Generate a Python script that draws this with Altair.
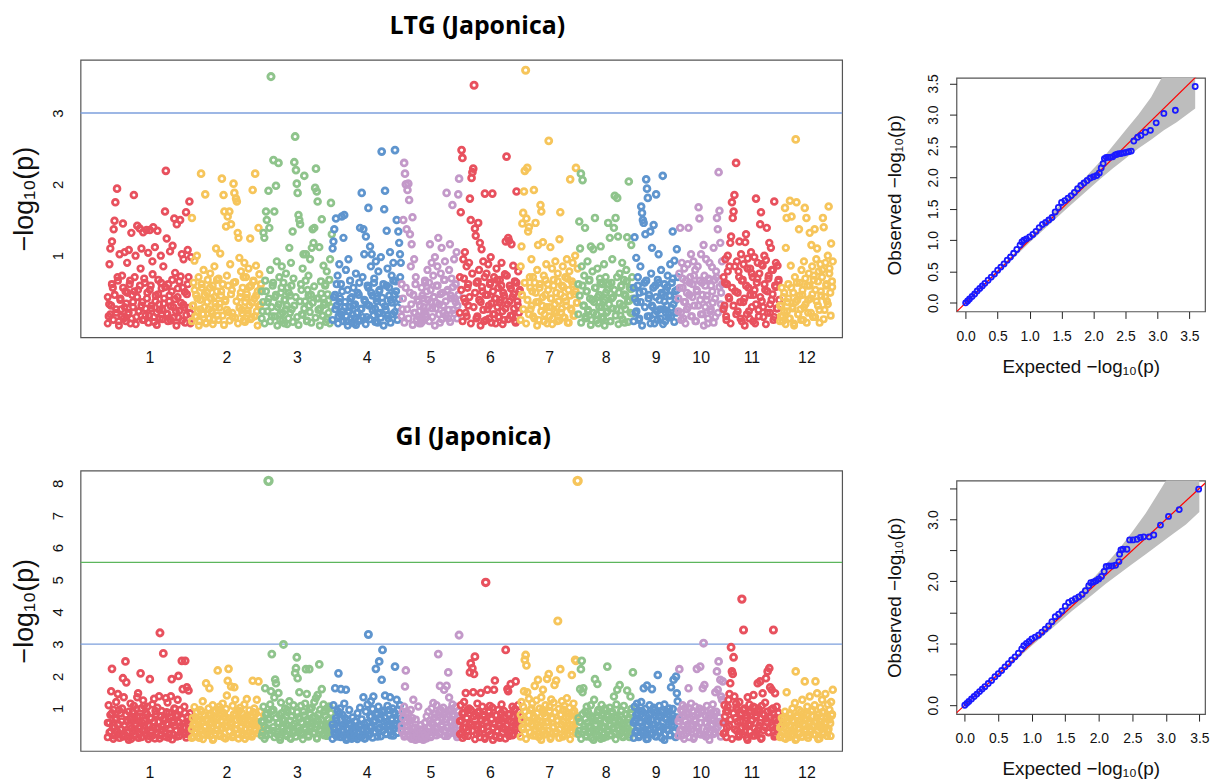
import altair as alt
import pandas as pd

# ---------------- chromosome layout (rice, IRGSP-1.0 lengths in Mb) ----------------
chrom_names = ["1", "2", "3", "4", "5", "6", "7", "8", "9", "10", "11", "12"]
chrom_length_mb = [43.27, 35.94, 36.41, 35.50, 29.96, 31.25, 29.70, 28.44, 23.01, 23.21, 29.02, 27.53]
chrom_colors = ["#E8515E", "#F6C55B", "#8FC48C", "#5F95CE", "#C399C9",
                "#E8515E", "#F6C55B", "#8FC48C", "#5F95CE", "#C399C9",
                "#E8515E", "#F6C55B"]

# ---------------- LTG (Japonica): -log10(p) per marker, in map order ----------------
ltg_chr1 = [0.42, 0.15, 0.88, 1.10, 0.30, 1.20, 0.55, 1.37, 1.49, 1.75,
            0.20, 1.94, 0.65, 0.08, 1.02, 0.40, 0.25, 0.72, 1.45, 0.12,
            1.05, 0.50, 0.33, 0.90, 0.18, 1.08, 0.60, 0.05, 1.32, 0.45,
            0.28, 1.85, 0.70, 1.00, 0.14, 1.42, 0.52, 0.22, 1.38, 0.82,
            1.10, 0.35, 1.33, 0.10, 0.62, 0.26, 1.36, 0.48, 1.04, 0.16,
            1.36, 0.58, 0.30, 0.92, 1.40, 0.07, 1.12, 0.44, 0.20, 1.35,
            0.66, 0.32, 0.12, 1.00, 0.54, 0.24, 0.85, 0.40, 1.62, 2.19,
            1.24, 0.18, 0.60, 0.36, 1.06, 0.09, 0.50, 1.14, 0.28, 1.52,
            0.76, 0.22, 1.44, 0.42, 0.13, 0.64, 1.50, 0.34, 1.02, 0.55,
            0.95, 0.27, 0.06, 1.61, 0.46, 1.08, 0.70, 1.76, 0.19, 0.98]
ltg_chr2 = [1.53, 0.30, 0.62, 0.93, 0.15, 0.45, 1.00, 0.22, 0.70, 0.08,
            0.38, 2.15, 0.55, 0.18, 0.80, 0.28, 1.86, 0.05, 0.48, 0.66,
            0.25, 0.12, 0.75, 0.40, 0.20, 0.58, 0.10, 0.85, 0.33, 1.10,
            0.50, 0.16, 0.68, 0.27, 1.03, 0.44, 2.08, 0.60, 1.85, 1.62,
            0.36, 1.41, 0.72, 1.55, 0.21, 1.62, 0.88, 1.44, 0.52, 0.14,
            2.01, 1.88, 0.63, 1.80, 1.76, 1.32, 1.25, 0.97, 0.42, 0.78,
            0.24, 0.55, 0.09, 0.90, 0.35, 0.70, 0.46, 0.19, 0.82, 0.30,
            1.24, 0.58, 0.13, 1.92, 0.65, 0.40, 2.15, 0.86, 0.22, 0.50,
            1.39, 0.74, 0.31, 0.60]
ltg_chr3 = [0.50, 0.22, 1.32, 1.25, 0.65, 1.62, 1.50, 0.35, 1.91, 1.39,
            0.80, 3.51, 0.15, 0.58, 2.34, 1.62, 0.42, 1.98, 0.92, 0.28,
            2.30, 0.70, 0.10, 0.48, 0.85, 0.20, 0.62, 0.05, 0.38, 0.75,
            0.30, 0.55, 0.12, 1.11, 0.44, 0.90, 0.25, 1.34, 0.68, 2.31,
            2.67, 2.20, 2.01, 1.88, 1.57, 1.50, 1.44, 0.60, 0.18, 0.82,
            1.02, 2.12, 0.36, 1.02, 0.08, 0.52, 0.72, 0.30, 0.95, 0.45,
            1.11, 1.37, 1.18, 1.39, 1.95, 2.22, 1.90, 1.76, 0.40, 1.12,
            0.26, 0.64, 1.51, 0.16, 0.86, 0.34, 0.58, 0.07, 0.78, 0.46,
            0.20, 0.66, 0.95, 1.74, 1.30]
ltg_chr4 = [1.10, 1.20, 1.37, 0.45, 1.52, 0.30, 0.72, 0.15, 0.88, 0.40,
            0.60, 1.55, 0.22, 1.25, 1.57, 0.35, 0.80, 0.08, 0.52, 0.95,
            0.28, 0.65, 0.12, 0.42, 0.18, 0.55, 0.05, 0.32, 0.75, 0.20,
            0.48, 0.10, 0.62, 1.39, 0.25, 1.88, 0.70, 1.37, 1.02, 0.36,
            1.27, 0.14, 0.58, 1.67, 0.30, 1.13, 0.85, 1.02, 0.44, 0.16,
            0.68, 0.26, 0.92, 0.40, 0.06, 0.78, 0.50, 0.20, 0.98, 2.46,
            0.34, 0.60, 1.65, 1.91, 0.24, 1.35, 0.82, 0.12, 0.55, 1.05,
            0.38, 0.72, 0.18, 0.90, 0.46, 2.48, 0.64, 1.50, 0.28, 1.34,
            1.18, 1.02, 0.90]
ltg_chr5 = [0.60, 0.25, 1.50, 2.30, 2.15, 2.00, 1.37, 1.92, 2.01, 1.78,
            1.30, 0.85, 1.16, 1.54, 0.45, 0.95, 0.20, 0.70, 0.10, 0.38,
            0.15, 0.05, 0.30, 0.12, 0.55, 0.08, 0.40, 0.22, 0.65, 0.18,
            0.50, 0.80, 0.28, 0.62, 1.16, 0.35, 0.90, 0.14, 0.72, 0.42,
            0.98, 0.26, 0.58, 0.85, 1.25, 0.32, 0.06, 0.75, 1.11, 0.48,
            0.20, 0.66, 0.92, 0.36, 1.88, 0.52, 0.12, 0.80, 1.16, 0.44,
            0.68, 1.71, 0.24, 0.95, 0.40, 0.60, 1.05, 0.30, 1.86, 2.08]
ltg_chr6 = [0.70, 1.61, 2.48, 2.37, 0.95, 0.40, 1.05, 0.20, 0.85, 0.55,
            0.30, 0.90, 1.80, 1.50, 2.09, 2.17, 2.22, 3.39, 1.38, 1.28,
            0.62, 0.15, 1.46, 0.80, 1.18, 0.35, 1.09, 0.50, 0.92, 0.08,
            1.87, 0.45, 0.75, 0.25, 0.88, 0.12, 0.60, 0.98, 0.33, 1.87,
            0.18, 0.70, 0.40, 0.05, 0.82, 0.28, 0.55, 0.14, 0.66, 0.38,
            0.90, 0.22, 0.48, 0.10, 0.74, 1.20, 2.39, 0.32, 1.25, 1.21,
            0.58, 0.16, 1.16, 0.42, 0.86, 0.26, 0.64, 0.06, 1.90, 0.36,
            0.78, 0.20, 0.52]
ltg_chr7 = [0.85, 1.13, 1.45, 1.60, 1.90, 2.19, 3.60, 1.52, 2.23, 1.34,
            1.40, 0.70, 0.25, 0.95, 0.50, 0.15, 1.92, 0.62, 1.46, 0.35,
            0.80, 1.15, 0.10, 0.55, 1.71, 1.62, 0.30, 1.19, 0.72, 0.18,
            0.45, 0.88, 0.05, 0.60, 2.61, 0.28, 1.12, 0.40, 0.82, 0.12,
            0.66, 0.22, 0.92, 0.48, 0.08, 0.75, 0.36, 1.23, 1.61, 0.20,
            0.58, 0.85, 0.14, 0.42, 0.70, 0.30, 0.95, 0.06, 0.52, 0.78,
            2.07, 0.26, 0.64, 0.90, 0.16, 0.46, 1.00, 2.23, 0.34, 0.82]
ltg_chr8 = [0.60, 1.48, 1.10, 2.15, 0.85, 2.06, 0.30, 0.72, 1.39, 0.15,
            0.50, 0.92, 0.22, 0.65, 0.40, 1.13, 0.10, 0.78, 1.09, 0.35,
            1.53, 0.55, 0.18, 0.82, 0.05, 0.45, 0.68, 1.13, 0.28, 0.60,
            0.12, 0.88, 0.38, 0.70, 0.20, 0.52, 1.46, 0.32, 1.25, 0.08,
            0.62, 0.95, 0.42, 1.39, 1.84, 1.53, 0.25, 1.81, 1.27, 0.48,
            0.75, 0.16, 0.58, 0.90, 0.30, 0.66, 0.06, 0.44, 0.80, 1.26,
            0.36, 2.04, 0.55, 0.20, 1.15, 0.70, 0.40]
ltg_chr9 = [0.55, 1.26, 0.20, 0.97, 0.35, 0.70, 0.10, 0.48, 0.85, 1.69,
            1.60, 1.50, 1.46, 0.62, 1.30, 2.07, 1.94, 1.81, 0.40, 0.15,
            1.34, 0.75, 1.11, 0.28, 1.43, 0.05, 0.58, 1.86, 0.22, 0.66,
            1.02, 0.38, 0.12, 0.80, 0.45, 2.12, 0.25, 0.60, 0.08, 0.52,
            0.30, 0.72, 0.18, 0.44, 0.88, 0.14, 0.62, 1.34, 0.32, 0.93,
            0.50, 0.20, 1.09, 0.70]
ltg_chr10 = [0.40, 0.75, 1.39, 0.20, 0.90, 0.55, 0.12, 0.82, 0.35, 0.65,
             0.25, 0.88, 1.39, 0.45, 0.70, 1.02, 0.15, 0.60, 0.92, 0.30,
             0.80, 0.08, 0.50, 0.85, 1.68, 1.52, 0.38, 1.02, 0.62, 0.18,
             1.15, 0.72, 0.28, 0.95, 0.44, 0.05, 0.68, 0.90, 0.22, 0.58,
             0.84, 0.34, 1.11, 0.66, 0.14, 0.78, 1.53, 1.37, 2.17, 1.63,
             1.18, 0.48, 0.92, 0.26]
ltg_chr11 = [0.70, 0.30, 0.95, 0.15, 0.60, 1.00, 0.42, 0.85, 1.18, 1.27,
             1.75, 1.53, 1.62, 1.85, 0.50, 2.30, 0.92, 0.22, 0.78, 1.20,
             0.35, 1.02, 0.08, 0.66, 0.88, 0.40, 1.19, 1.30, 0.18, 0.96,
             0.55, 0.12, 0.82, 1.05, 0.28, 0.70, 0.45, 0.98, 0.05, 1.80,
             0.62, 0.90, 0.24, 0.75, 1.44, 1.61, 0.36, 0.86, 0.14, 1.00,
             0.52, 0.94, 1.39, 0.20, 0.68, 1.18, 0.32, 1.11, 0.80, 0.46,
             0.10, 1.76, 0.58, 0.90, 0.26, 0.86, 0.64, 0.38]
ltg_chr12 = [0.30, 0.15, 0.55, 0.08, 0.42, 0.22, 1.67, 1.11, 1.53, 0.35,
             0.60, 0.12, 1.77, 0.86, 1.55, 0.28, 0.48, 0.05, 0.70, 2.63,
             1.75, 0.38, 0.18, 1.37, 0.62, 0.25, 0.80, 0.45, 0.10, 0.92,
             1.67, 0.32, 1.53, 0.58, 0.20, 0.75, 1.32, 0.40, 1.15, 0.85,
             0.14, 0.66, 1.37, 0.52, 0.95, 1.10, 0.30, 0.78, 0.06, 0.88,
             0.44, 0.70, 1.53, 1.40, 0.24, 0.90, 0.58, 0.36, 1.00, 1.69,
             0.82, 0.48, 1.17, 0.64, 0.92]

# dense low-signal markers of each LTG chromosome
ltg_base1 = [0.05, 0.32, 0.18, 0.60, 0.10, 0.45, 0.25, 0.70, 0.02, 0.38,
             0.15, 0.55, 0.28, 0.08, 0.48, 0.20, 0.65, 0.12, 0.35, 0.50,
             0.04, 0.42, 0.22, 0.58, 0.30, 0.10, 0.68, 0.16, 0.40, 0.06,
             0.52, 0.26, 0.74, 0.14, 0.36, 0.03, 0.46, 0.24, 0.62, 0.11,
             0.33, 0.56, 0.19, 0.08, 0.44, 0.29, 0.66, 0.13, 0.39, 0.02,
             0.54, 0.23, 0.71, 0.09, 0.31, 0.49, 0.17, 0.60, 0.27, 0.05]
ltg_base2 = [0.08, 0.30, 0.52, 0.14, 0.40, 0.02, 0.25, 0.60, 0.18, 0.45,
             0.06, 0.35, 0.12, 0.55, 0.22, 0.04, 0.42, 0.28, 0.66, 0.10,
             0.33, 0.50, 0.16, 0.03, 0.38, 0.24, 0.58, 0.09, 0.46, 0.20,
             0.62, 0.13, 0.36, 0.05, 0.27, 0.48, 0.19, 0.70, 0.07, 0.41,
             0.23, 0.56, 0.11, 0.34, 0.64, 0.15, 0.44, 0.02, 0.29, 0.53]
ltg_base3 = [0.12, 0.35, 0.05, 0.50, 0.22, 0.40, 0.08, 0.28, 0.62, 0.15,
             0.45, 0.02, 0.32, 0.18, 0.55, 0.10, 0.38, 0.25, 0.04, 0.48,
             0.20, 0.58, 0.07, 0.30, 0.42, 0.14, 0.03, 0.36, 0.52, 0.17,
             0.26, 0.65, 0.09, 0.44, 0.21, 0.06, 0.34, 0.57, 0.13, 0.40,
             0.24, 0.02, 0.47, 0.16, 0.31, 0.60, 0.11, 0.37, 0.05, 0.28]
ltg_base4 = [0.10, 0.42, 0.25, 0.60, 0.05, 0.35, 0.18, 0.50, 0.08, 0.28,
             0.15, 0.02, 0.22, 0.40, 0.06, 0.30, 0.12, 0.03, 0.20, 0.45,
             0.09, 0.26, 0.14, 0.38, 0.04, 0.32, 0.55, 0.11, 0.48, 0.24,
             0.62, 0.07, 0.36, 0.19, 0.52, 0.13, 0.41, 0.02, 0.29, 0.58,
             0.16, 0.44, 0.06, 0.34, 0.65, 0.21, 0.50, 0.10, 0.39, 0.70]
ltg_base5 = [0.15, 0.40, 0.06, 0.55, 0.25, 0.12, 0.48, 0.32, 0.03, 0.20,
             0.60, 0.10, 0.36, 0.22, 0.05, 0.44, 0.28, 0.62, 0.14, 0.38,
             0.08, 0.52, 0.26, 0.42, 0.02, 0.34, 0.58, 0.18, 0.46, 0.11,
             0.30, 0.66, 0.16, 0.50, 0.24, 0.07, 0.40, 0.56, 0.19, 0.35,
             0.12, 0.45]
ltg_base6 = [0.20, 0.52, 0.08, 0.68, 0.35, 0.15, 0.60, 0.42, 0.05, 0.75,
             0.28, 0.48, 0.12, 0.64, 0.38, 0.02, 0.56, 0.24, 0.70, 0.10,
             0.45, 0.30, 0.62, 0.06, 0.50, 0.18, 0.40, 0.66, 0.14, 0.34,
             0.58, 0.04, 0.44, 0.26, 0.72, 0.11, 0.36, 0.54, 0.16, 0.46,
             0.08, 0.62, 0.30, 0.50]
ltg_base7 = [0.10, 0.45, 0.25, 0.62, 0.05, 0.38, 0.18, 0.55, 0.30, 0.70,
             0.12, 0.48, 0.02, 0.35, 0.60, 0.22, 0.42, 0.08, 0.66, 0.28,
             0.52, 0.15, 0.40, 0.04, 0.58, 0.32, 0.20, 0.64, 0.09, 0.46,
             0.26, 0.56, 0.13, 0.36, 0.68, 0.06, 0.44, 0.24, 0.60, 0.16,
             0.50, 0.34]
ltg_base8 = [0.18, 0.44, 0.06, 0.58, 0.30, 0.12, 0.50, 0.24, 0.66, 0.03,
             0.38, 0.20, 0.55, 0.09, 0.42, 0.28, 0.62, 0.14, 0.35, 0.02,
             0.48, 0.22, 0.60, 0.08, 0.40, 0.26, 0.52, 0.16, 0.70, 0.04,
             0.33, 0.57, 0.11, 0.46, 0.25, 0.64, 0.07, 0.37, 0.53, 0.19]
ltg_base9 = [0.08, 0.40, 0.22, 0.58, 0.12, 0.35, 0.02, 0.50, 0.28, 0.65,
             0.15, 0.45, 0.05, 0.30, 0.55, 0.18, 0.42, 0.10, 0.62, 0.25,
             0.48, 0.04, 0.36, 0.20, 0.56, 0.13, 0.44, 0.27, 0.68, 0.07,
             0.38, 0.52]
ltg_base10 = [0.22, 0.55, 0.10, 0.68, 0.35, 0.05, 0.48, 0.28, 0.62, 0.15,
              0.42, 0.72, 0.08, 0.52, 0.30, 0.65, 0.18, 0.45, 0.02, 0.58,
              0.38, 0.12, 0.66, 0.25, 0.50, 0.06, 0.40, 0.70, 0.20, 0.56,
              0.32, 0.60]
ltg_base11 = [0.25, 0.62, 0.10, 0.78, 0.40, 0.05, 0.55, 0.30, 0.85, 0.18,
              0.48, 0.70, 0.12, 0.65, 0.35, 0.02, 0.58, 0.82, 0.22, 0.45,
              0.75, 0.08, 0.52, 0.32, 0.68, 0.15, 0.42, 0.88, 0.28, 0.60,
              0.04, 0.50, 0.72, 0.20, 0.38, 0.80, 0.14, 0.56, 0.26, 0.66]
ltg_base12 = [0.08, 0.30, 0.15, 0.48, 0.04, 0.22, 0.40, 0.12, 0.55, 0.26,
              0.02, 0.35, 0.62, 0.18, 0.44, 0.10, 0.52, 0.28, 0.68, 0.06,
              0.38, 0.58, 0.20, 0.46, 0.72, 0.14, 0.36, 0.64, 0.24, 0.50,
              0.80, 0.11, 0.42, 0.60, 0.32, 0.75, 0.16, 0.56]

# ---------------- GI (Japonica): -log10(p) per marker, in map order ----------------
gi_chr1 = [0.55, 1.10, 0.25, 0.80, 1.53, 2.23, 0.40, 0.95, 0.15, 0.65,
           1.20, 0.30, 1.45, 0.50, 0.08, 0.85, 0.35, 1.00, 1.94, 1.35,
           0.20, 2.46, 1.81, 0.60, 0.12, 0.90, 0.45, 1.15, 0.05, 0.72,
           0.28, 1.08, 0.62, 0.18, 0.98, 1.35, 1.47, 0.38, 0.75, 2.09,
           0.10, 0.55, 1.25, 1.08, 0.32, 0.88, 0.22, 1.05, 0.48, 0.14,
           1.91, 0.68, 0.26, 1.12, 0.42, 1.30, 0.06, 0.82, 0.36, 1.02,
           0.58, 1.38, 3.35, 0.16, 0.92, 0.44, 2.71, 0.70, 0.24, 1.32,
           0.52, 1.18, 0.09, 0.86, 0.34, 1.38, 1.91, 0.62, 0.18, 1.00,
           0.46, 0.78, 0.12, 1.27, 2.01, 0.56, 0.95, 0.30, 2.48, 1.60,
           0.40, 1.05, 2.48, 0.20, 1.66, 0.74, 1.56, 0.50, 0.85, 0.27]
gi_chr2 = [0.35, 0.70, 0.12, 1.04, 0.50, 0.22, 0.88, 0.40, 0.65, 0.08,
           0.95, 0.30, 0.55, 1.22, 0.18, 0.78, 0.45, 1.78, 0.26, 0.62,
           1.00, 1.63, 0.15, 0.82, 0.38, 1.10, 0.05, 0.60, 0.90, 0.32,
           0.70, 2.18, 0.48, 1.05, 0.20, 0.85, 0.58, 1.15, 0.10, 0.75,
           0.42, 0.98, 1.40, 1.86, 2.23, 0.28, 0.66, 1.68, 0.52, 1.08,
           0.16, 1.66, 1.27, 0.80, 0.36, 0.92, 0.06, 0.68, 1.02, 0.44,
           0.86, 0.24, 0.60, 1.12, 0.34, 0.72, 1.29, 0.14, 0.50, 0.94,
           0.40, 0.76, 0.20, 1.86, 0.62, 1.00, 0.30, 0.84, 1.27, 0.54,
           1.84, 0.46, 0.90, 0.25]
gi_chr3 = [0.60, 0.25, 1.05, 0.45, 1.63, 0.15, 0.85, 0.38, 8.08, 0.70,
           1.12, 1.53, 2.69, 0.30, 0.95, 1.34, 1.90, 1.78, 0.20, 0.55,
           1.48, 0.80, 0.10, 1.18, 0.42, 0.66, 2.99, 0.28, 1.00, 0.50,
           0.14, 0.88, 0.35, 1.22, 0.62, 0.05, 0.92, 0.46, 1.10, 0.24,
           2.10, 2.25, 2.59, 1.94, 0.72, 1.50, 0.32, 1.08, 0.56, 0.18,
           0.90, 0.40, 1.15, 2.22, 1.45, 0.66, 0.12, 2.22, 0.82, 0.36,
           1.02, 0.52, 0.22, 1.20, 0.74, 1.32, 0.08, 1.42, 0.60, 2.37,
           0.96, 0.30, 1.60, 0.48, 1.12, 0.16, 0.78, 0.40, 1.00, 0.26,
           0.65, 1.06, 0.34, 0.85, 0.50]
gi_chr4 = [0.50, 1.10, 0.25, 1.63, 0.70, 0.12, 0.92, 2.09, 0.40, 1.00,
           1.60, 0.30, 0.80, 0.15, 1.15, 0.55, 1.58, 0.08, 0.65, 0.35,
           0.95, 0.20, 0.48, 0.05, 0.72, 0.28, 0.15, 0.60, 0.10, 0.38,
           0.85, 0.22, 0.45, 1.02, 0.14, 0.66, 0.30, 1.35, 0.52, 0.06,
           0.90, 0.34, 1.12, 3.30, 0.18, 0.75, 1.22, 0.42, 0.98, 1.37,
           0.26, 0.62, 2.23, 0.86, 0.12, 1.05, 2.46, 0.40, 0.70, 1.89,
           2.82, 0.32, 0.94, 1.40, 0.20, 0.58, 1.08, 0.46, 0.80, 1.35,
           0.16, 0.64, 1.00, 0.36, 0.88, 2.30, 0.52, 1.27, 0.24, 0.96,
           0.44, 1.10, 0.68]
gi_chr5 = [0.45, 0.90, 0.20, 1.05, 1.68, 2.18, 0.60, 0.30, 0.85, 0.12,
           0.50, 0.95, 0.25, 0.70, 1.27, 0.08, 0.40, 0.65, 0.15, 0.35,
           1.06, 0.05, 0.22, 0.48, 0.10, 0.30, 0.02, 0.18, 0.55, 0.12,
           0.75, 0.28, 0.90, 0.40, 0.62, 0.16, 1.00, 0.50, 1.17, 0.24,
           0.82, 0.36, 1.10, 0.58, 2.69, 0.20, 1.70, 0.95, 0.44, 0.70,
           1.02, 1.58, 0.32, 0.86, 1.70, 0.14, 2.12, 1.34, 0.60, 0.98,
           0.38, 1.12, 0.26, 0.80, 0.52, 1.05, 0.18, 0.72, 0.92, 3.28]
gi_chr6 = [0.60, 1.10, 0.25, 0.85, 0.40, 1.20, 0.15, 1.48, 0.70, 0.95,
           0.30, 1.00, 2.12, 2.40, 0.50, 2.25, 1.50, 2.07, 2.61, 0.80,
           0.20, 1.15, 0.45, 0.90, 0.10, 1.48, 0.62, 1.05, 0.35, 0.75,
           0.05, 4.92, 0.55, 1.58, 0.28, 0.88, 1.08, 0.18, 0.66, 1.02,
           0.40, 1.58, 1.87, 0.12, 0.78, 0.30, 0.95, 0.52, 0.08, 0.70,
           1.12, 0.24, 0.60, 0.92, 0.36, 2.82, 0.46, 1.60, 1.53, 0.14,
           0.82, 1.76, 0.32, 1.05, 0.56, 0.20, 0.98, 1.84, 0.42, 0.72,
           1.10, 0.26, 0.64]
gi_chr7 = [0.80, 1.20, 0.40, 1.05, 1.53, 2.51, 2.66, 2.34, 1.50, 0.60,
           1.30, 0.25, 0.95, 0.50, 1.15, 0.15, 0.75, 1.70, 0.35, 1.25,
           0.65, 1.89, 0.10, 1.00, 0.45, 1.35, 0.28, 1.58, 0.85, 0.18,
           1.10, 0.55, 1.92, 0.30, 2.07, 0.92, 0.05, 1.28, 0.70, 0.40,
           1.18, 1.73, 0.22, 1.87, 0.62, 3.72, 0.98, 0.35, 2.22, 0.80,
           1.22, 0.12, 0.58, 1.08, 0.42, 0.90, 1.32, 0.20, 0.72, 1.02,
           0.48, 0.30, 2.04, 0.86, 1.15, 0.38, 2.51, 2.48, 0.66, 8.08]
gi_chr8 = [0.70, 0.30, 1.60, 2.22, 2.48, 1.50, 1.63, 0.45, 0.90, 0.15,
           1.05, 0.55, 0.25, 0.80, 0.40, 1.10, 0.08, 0.68, 0.35, 1.27,
           1.91, 0.50, 0.18, 1.76, 0.95, 0.28, 0.62, 0.05, 1.11, 0.42,
           0.85, 0.20, 1.00, 0.58, 0.12, 2.30, 0.75, 0.32, 1.02, 0.48,
           0.16, 0.90, 0.60, 1.37, 0.26, 0.78, 1.12, 1.58, 0.38, 0.66,
           1.73, 0.22, 0.94, 0.46, 0.10, 1.08, 0.54, 0.30, 0.82, 1.56,
           0.36, 0.72, 0.18, 1.37, 0.98, 0.44, 2.12]
gi_chr9 = [0.55, 1.05, 0.25, 0.80, 1.15, 0.40, 0.10, 0.92, 0.60, 1.20,
           0.30, 0.75, 1.63, 0.18, 0.98, 0.45, 1.71, 0.05, 0.68, 1.10,
           0.35, 0.85, 1.60, 0.22, 1.02, 0.50, 0.14, 0.88, 0.62, 2.04,
           0.28, 1.08, 0.44, 0.72, 0.08, 0.95, 0.38, 1.12, 0.20, 0.66,
           0.90, 0.32, 0.58, 1.00, 0.16, 1.66, 0.48, 0.78, 1.89, 0.26,
           0.70, 1.99, 1.47, 1.22]
gi_chr10 = [0.60, 2.22, 0.30, 0.95, 0.15, 1.10, 0.45, 0.78, 1.02, 0.22,
            0.85, 0.50, 1.63, 0.10, 0.70, 1.15, 0.35, 0.92, 0.05, 0.62,
            1.05, 0.28, 2.23, 0.80, 0.40, 1.00, 2.30, 0.18, 0.88, 1.63,
            3.03, 1.73, 0.55, 0.12, 1.08, 0.42, 0.75, 0.25, 0.96, 0.48,
            0.68, 1.12, 0.20, 0.86, 1.50, 0.36, 2.15, 1.58, 2.46, 0.58,
            1.89, 1.37, 1.27, 1.84]
gi_chr11 = [0.55, 1.10, 0.25, 0.90, 0.40, 1.05, 1.27, 1.45, 1.78, 2.90,
            2.15, 2.07, 2.59, 1.37, 0.70, 1.15, 0.30, 0.95, 0.12, 1.20,
            0.60, 0.85, 4.40, 0.20, 3.44, 1.00, 0.45, 0.78, 0.08, 1.35,
            0.50, 1.12, 0.28, 0.92, 0.65, 0.15, 1.42, 0.38, 1.02, 0.72,
            0.22, 1.78, 0.88, 0.46, 1.84, 0.05, 1.08, 1.47, 0.32, 0.80,
            1.18, 1.94, 0.58, 2.15, 0.26, 2.25, 1.66, 0.95, 1.58, 0.42,
            3.44, 0.70, 1.47, 0.18, 1.05, 0.35, 0.86, 0.62]
gi_chr12 = [0.40, 0.15, 0.70, 0.25, 0.55, 0.08, 0.90, 0.35, 1.50, 0.20,
            0.62, 0.10, 0.80, 0.45, 0.30, 1.00, 0.18, 0.58, 1.17, 2.15,
            0.05, 0.72, 0.38, 0.95, 0.22, 0.60, 0.12, 1.27, 0.48, 0.85,
            1.84, 0.28, 0.66, 1.05, 0.16, 0.52, 1.37, 0.34, 0.92, 0.44,
            0.75, 0.20, 1.10, 1.84, 0.58, 1.47, 0.30, 0.82, 0.06, 1.02,
            0.50, 1.27, 0.26, 0.88, 0.40, 1.45, 0.68, 0.14, 1.12, 0.36,
            0.96, 0.54, 1.20, 0.78, 1.58]

# dense low-signal markers of each GI chromosome
gi_base1 = [0.10, 0.55, 0.28, 0.85, 0.05, 0.42, 0.70, 0.18, 0.95, 0.35,
            0.60, 0.12, 0.48, 0.80, 0.25, 0.02, 0.66, 0.38, 0.90, 0.15,
            0.52, 0.74, 0.08, 0.44, 1.00, 0.30, 0.62, 0.20, 0.82, 0.04,
            0.46, 0.70, 0.16, 0.58, 0.92, 0.26, 0.40, 0.06, 0.76, 0.34,
            0.64, 0.12, 0.88, 0.50, 0.22, 0.72, 0.03, 0.56, 0.98, 0.32,
            0.78, 0.14, 0.45, 0.68, 0.24, 0.86, 0.09, 0.54, 0.36, 0.62]
gi_base2 = [0.08, 0.48, 0.25, 0.72, 0.12, 0.60, 0.35, 0.90, 0.04, 0.42,
            0.66, 0.18, 0.80, 0.30, 0.55, 0.02, 0.75, 0.22, 0.50, 0.95,
            0.14, 0.62, 0.38, 0.85, 0.06, 0.45, 0.70, 0.28, 0.58, 0.10,
            0.82, 0.34, 0.64, 0.20, 0.92, 0.40, 0.16, 0.68, 0.05, 0.52,
            0.78, 0.26, 0.60, 0.12, 0.88, 0.36, 0.56, 0.22, 0.74, 0.44]
gi_base3 = [0.15, 0.58, 0.05, 0.80, 0.32, 0.65, 0.20, 0.92, 0.42, 0.10,
            0.70, 0.28, 0.55, 0.02, 0.85, 0.38, 0.62, 0.18, 0.95, 0.46,
            0.08, 0.75, 0.30, 0.52, 0.12, 0.88, 0.40, 0.68, 0.24, 0.04,
            0.78, 0.35, 0.60, 0.16, 0.98, 0.44, 0.72, 0.26, 0.50, 0.06,
            0.82, 0.34, 0.64, 0.20, 0.90, 0.48, 0.14, 0.66, 0.30, 0.56]
gi_base4 = [0.05, 0.40, 0.18, 0.62, 0.28, 0.85, 0.10, 0.48, 0.32, 0.70,
            0.02, 0.22, 0.52, 0.14, 0.38, 0.08, 0.30, 0.60, 0.04, 0.25,
            0.45, 0.12, 0.35, 0.06, 0.20, 0.55, 0.16, 0.42, 0.75, 0.09,
            0.58, 0.26, 0.80, 0.36, 0.65, 0.13, 0.90, 0.44, 0.72, 0.21,
            0.50, 0.95, 0.30, 0.68, 0.15, 0.82, 0.46, 0.24, 0.78, 0.56]
gi_base5 = [0.30, 0.70, 0.12, 0.85, 0.45, 0.20, 0.62, 0.05, 0.38, 0.15,
            0.02, 0.25, 0.08, 0.18, 0.35, 0.04, 0.12, 0.28, 0.06, 0.22,
            0.42, 0.10, 0.55, 0.30, 0.72, 0.16, 0.60, 0.88, 0.26, 0.50,
            0.80, 0.14, 0.66, 0.40, 0.92, 0.22, 0.58, 0.76, 0.34, 0.64,
            0.10, 0.48]
gi_base6 = [0.20, 0.62, 0.08, 0.85, 0.40, 0.70, 0.14, 0.55, 0.95, 0.30,
            0.75, 0.04, 0.50, 0.88, 0.24, 0.66, 0.36, 0.80, 0.10, 0.58,
            0.44, 0.92, 0.18, 0.68, 0.02, 0.52, 0.78, 0.28, 0.62, 0.12,
            0.86, 0.38, 0.70, 0.06, 0.48, 0.82, 0.26, 0.60, 0.16, 0.74,
            0.34, 0.56, 0.22, 0.90]
gi_base7 = [0.12, 0.65, 0.35, 0.90, 0.05, 0.55, 0.78, 0.25, 1.00, 0.45,
            0.70, 0.15, 0.85, 0.40, 0.60, 0.02, 0.95, 0.30, 0.75, 0.20,
            0.58, 1.05, 0.10, 0.68, 0.42, 0.88, 0.28, 0.62, 0.08, 0.80,
            0.50, 0.96, 0.18, 0.72, 0.36, 0.84, 0.04, 0.64, 0.46, 0.92,
            0.22, 0.76]
gi_base8 = [0.20, 0.58, 0.05, 0.82, 0.35, 0.68, 0.12, 0.90, 0.45, 0.25,
            0.75, 0.02, 0.62, 0.30, 0.88, 0.15, 0.52, 0.78, 0.08, 0.42,
            0.95, 0.28, 0.65, 0.18, 0.85, 0.38, 0.55, 0.04, 0.72, 0.32,
            0.60, 0.92, 0.14, 0.48, 0.80, 0.24, 0.66, 0.10, 0.86, 0.40]
gi_base9 = [0.08, 0.62, 0.30, 0.85, 0.15, 0.55, 0.92, 0.25, 0.70, 0.04,
            0.48, 0.80, 0.20, 0.65, 0.38, 0.95, 0.12, 0.58, 0.76, 0.28,
            0.88, 0.42, 0.02, 0.68, 0.34, 0.82, 0.18, 0.60, 0.98, 0.45,
            0.10, 0.72]
gi_base10 = [0.15, 0.70, 0.35, 0.92, 0.05, 0.60, 0.82, 0.28, 1.00, 0.45,
             0.75, 0.10, 0.65, 0.40, 0.88, 0.22, 0.55, 0.95, 0.18, 0.78,
             0.32, 0.68, 0.02, 0.85, 0.50, 0.62, 0.25, 0.90, 0.42, 0.72,
             0.12, 0.58]
gi_base11 = [0.22, 0.75, 0.10, 0.92, 0.45, 0.65, 0.05, 0.85, 0.35, 1.02,
             0.58, 0.18, 0.80, 0.40, 0.95, 0.28, 0.70, 0.02, 0.88, 0.50,
             0.62, 1.05, 0.15, 0.78, 0.32, 0.98, 0.55, 0.08, 0.82, 0.42,
             0.68, 0.90, 0.25, 0.72, 0.48, 1.00, 0.12, 0.64, 0.38, 0.86]
gi_base12 = [0.10, 0.45, 0.25, 0.70, 0.05, 0.55, 0.32, 0.85, 0.15, 0.62,
             0.40, 0.02, 0.78, 0.22, 0.50, 0.90, 0.12, 0.66, 0.35, 0.80,
             0.08, 0.58, 0.28, 0.95, 0.44, 0.18, 0.72, 0.04, 0.60, 0.38,
             0.88, 0.20, 0.52, 0.75, 0.30, 0.65, 0.14, 0.82]

ltg_chromosomes = [ltg_chr1, ltg_chr2, ltg_chr3, ltg_chr4, ltg_chr5, ltg_chr6,
                   ltg_chr7, ltg_chr8, ltg_chr9, ltg_chr10, ltg_chr11, ltg_chr12]
ltg_bases = [ltg_base1, ltg_base2, ltg_base3, ltg_base4, ltg_base5, ltg_base6,
             ltg_base7, ltg_base8, ltg_base9, ltg_base10, ltg_base11, ltg_base12]
gi_chromosomes = [gi_chr1, gi_chr2, gi_chr3, gi_chr4, gi_chr5, gi_chr6,
                  gi_chr7, gi_chr8, gi_chr9, gi_chr10, gi_chr11, gi_chr12]
gi_bases = [gi_base1, gi_base2, gi_base3, gi_base4, gi_base5, gi_base6,
            gi_base7, gi_base8, gi_base9, gi_base10, gi_base11, gi_base12]

# significance thresholds drawn across each Manhattan panel
ltg_thresholds = [3.0]
ltg_threshold_colors = ["#7C9FDC"]
gi_thresholds = [5.54, 3.0]
gi_threshold_colors = ["#5DB65D", "#7C9FDC"]

# ---------------- QQ plots: expected vs observed -log10(p) ----------------
qq_ltg_expected = [0.00, 0.03, 0.06, 0.10, 0.14, 0.18, 0.22, 0.26, 0.30, 0.35,
                   0.40, 0.45, 0.50, 0.55, 0.60, 0.65, 0.70, 0.75, 0.80, 0.85,
                   0.88, 0.91, 0.95, 1.00, 1.05, 1.10, 1.15, 1.20, 1.25, 1.30,
                   1.35, 1.40, 1.45, 1.50, 1.55, 1.60, 1.65, 1.70, 1.75, 1.80,
                   1.85, 1.90, 1.95, 2.00, 2.05, 2.09, 2.12, 2.15, 2.17, 2.20,
                   2.23, 2.26, 2.30, 2.34, 2.37, 2.40, 2.43, 2.47, 2.51, 2.55,
                   2.59, 2.63, 2.69, 2.74, 2.81, 2.89, 2.98, 3.10, 3.28, 3.59]
qq_ltg_observed = [0.00, 0.03, 0.06, 0.10, 0.14, 0.19, 0.23, 0.27, 0.31, 0.36,
                   0.41, 0.46, 0.52, 0.57, 0.62, 0.68, 0.73, 0.79, 0.85, 0.92,
                   0.97, 1.00, 1.02, 1.05, 1.09, 1.14, 1.20, 1.25, 1.28, 1.32,
                   1.36, 1.45, 1.52, 1.60, 1.63, 1.67, 1.71, 1.76, 1.82, 1.87,
                   1.91, 1.95, 1.99, 2.01, 2.03, 2.07, 2.15, 2.22, 2.30, 2.32,
                   2.32, 2.32, 2.33, 2.36, 2.37, 2.38, 2.38, 2.39, 2.40, 2.41,
                   2.42, 2.58, 2.64, 2.67, 2.72, 2.75, 2.87, 3.02, 3.07, 3.45]
qq_ltg_band_expected = [0.0, 0.5, 1.0, 1.3, 1.6, 1.9, 2.1, 2.3, 2.5, 2.7, 2.9, 3.1, 3.3, 3.59]
qq_ltg_band_lower = [0.0, 0.47, 0.96, 1.24, 1.52, 1.79, 1.97, 2.14, 2.30, 2.46, 2.60, 2.75, 2.88, 3.10]
qq_ltg_band_upper = [0.0, 0.53, 1.04, 1.37, 1.70, 2.03, 2.25, 2.50, 2.75, 3.00, 3.28, 3.65, 4.00, 4.60]

qq_gi_expected = [0.00, 0.03, 0.06, 0.10, 0.14, 0.18, 0.22, 0.26, 0.30, 0.35,
                  0.40, 0.45, 0.50, 0.55, 0.60, 0.65, 0.70, 0.75, 0.80, 0.85,
                  0.88, 0.92, 0.96, 1.00, 1.05, 1.10, 1.15, 1.20, 1.25, 1.30,
                  1.35, 1.40, 1.45, 1.50, 1.55, 1.60, 1.65, 1.70, 1.75, 1.80,
                  1.85, 1.88, 1.92, 1.96, 2.00, 2.04, 2.08, 2.11, 2.15, 2.20,
                  2.25, 2.30, 2.31, 2.33, 2.36, 2.42, 2.46, 2.51, 2.57, 2.62,
                  2.67, 2.75, 2.82, 2.92, 3.04, 3.20, 3.49]
qq_gi_observed = [0.00, 0.03, 0.06, 0.10, 0.14, 0.18, 0.22, 0.26, 0.30, 0.35,
                  0.40, 0.46, 0.51, 0.56, 0.62, 0.67, 0.73, 0.78, 0.84, 0.91,
                  0.96, 1.00, 1.03, 1.07, 1.10, 1.13, 1.18, 1.23, 1.28, 1.35,
                  1.43, 1.47, 1.52, 1.60, 1.66, 1.69, 1.72, 1.75, 1.79, 1.85,
                  1.93, 1.98, 1.99, 2.01, 2.04, 2.08, 2.16, 2.24, 2.25, 2.25,
                  2.26, 2.32, 2.44, 2.51, 2.52, 2.52, 2.67, 2.67, 2.68, 2.71,
                  2.72, 2.72, 2.75, 2.91, 3.05, 3.16, 3.49]
qq_gi_band_expected = [0.0, 0.5, 1.0, 1.3, 1.6, 1.9, 2.1, 2.3, 2.5, 2.7, 2.9, 3.1, 3.3, 3.5]
qq_gi_band_lower = [0.0, 0.47, 0.96, 1.24, 1.52, 1.78, 1.96, 2.12, 2.28, 2.44, 2.60, 2.76, 2.92, 3.12]
qq_gi_band_upper = [0.0, 0.53, 1.04, 1.37, 1.70, 2.03, 2.27, 2.52, 2.80, 3.10, 3.45, 3.80, 4.20, 4.60]
qq_ticks = [0.0, 0.5, 1.0, 1.5, 2.0, 2.5, 3.0, 3.5]

FONT = "Liberation Sans"
LOGP = "\u2212log\u2081\u2080(p)"

# ---------------- genome coordinates ----------------
chrom_starts = []
_acc = 0.0
for _len in chrom_length_mb:
    chrom_starts.append(_acc)
    _acc += _len
genome_end = _acc
chrom_centers = [s + l / 2 for s, l in zip(chrom_starts, chrom_length_mb)]

# axis label text for each chromosome centre (largest start tested first)
label_expr = "''"
for name, start in zip(chrom_names, chrom_starts):
    label_expr = f"datum.value >= {start} ? '{name}' : ({label_expr})"


def marker_table(chromosomes, bases):
    """Markers are spread along each chromosome in map order."""
    rows = []
    for name, start, length, values, base in zip(chrom_names, chrom_starts,
                                                 chrom_length_mb, chromosomes, bases):
        for series, shift in ((base, 0.25), (values, 0.5)):
            n = len(series)
            for i, v in enumerate(series):
                rows.append({"chrom": name, "pos": start + (i + shift) * length / n, "logp": v})
    return pd.DataFrame(rows)


def manhattan(chromosomes, bases, title, title_dx, y_domain, y_ticks, height, x_label_pad,
              size_range, stroke_range, vmax, thresholds, threshold_colors):
    xs = alt.Scale(domain=[-13.8, genome_end + 4.6], nice=False, zero=False)
    ys = alt.Scale(domain=y_domain, nice=False, zero=False)
    x_axis = alt.Axis(values=chrom_centers, labelExpr=label_expr, ticks=False, tickSize=0,
                      domain=False, grid=False, labelFontSize=16, labelPadding=x_label_pad,
                      labelColor="#111", title=None)
    y_axis = alt.Axis(values=y_ticks, format="d", ticks=False, tickSize=0, domain=False,
                      grid=False, labelAngle=270, labelAlign="center", labelBaseline="bottom",
                      labelFontSize=15, labelPadding=15, labelColor="#111",
                      title=LOGP, titleFontSize=27, titleFontWeight="normal",
                      titlePadding=12, titleColor="#111")
    rules = alt.Chart(pd.DataFrame({"t": thresholds, "c": threshold_colors})).mark_rule(
        strokeWidth=1.3
    ).encode(
        y=alt.Y("t:Q", scale=ys, axis=y_axis),
        color=alt.Color("c:N", scale=None),
    )
    points = alt.Chart(marker_table(chromosomes, bases)).mark_point(filled=False, opacity=1).encode(
        x=alt.X("pos:Q", scale=xs, axis=x_axis),
        y=alt.Y("logp:Q", scale=ys, axis=y_axis),
        color=alt.Color("chrom:N", scale=alt.Scale(domain=chrom_names, range=chrom_colors), legend=None),
        size=alt.Size("logp:Q", scale=alt.Scale(domain=[0, vmax], range=size_range), legend=None),
        strokeWidth=alt.StrokeWidth("logp:Q", scale=alt.Scale(domain=[0, vmax], range=stroke_range), legend=None),
    )
    return alt.layer(rules, points).properties(
        width=766, height=height,
        title=alt.TitleParams(title, anchor="middle", frame="group", dx=title_dx, offset=21),
    )


def qq_panel(expected, observed, band_x, band_lo, band_hi, x_domain, y_domain, y_label_expr):
    xs = alt.Scale(domain=x_domain, nice=False, zero=False)
    ys = alt.Scale(domain=y_domain, nice=False, zero=False)
    x_axis = alt.Axis(values=qq_ticks, format=".1f", tickSize=7, tickColor="#222", domain=False,
                      grid=False, labelFontSize=14, labelPadding=11, labelColor="#111",
                      title="Expected " + LOGP, titleFontSize=19, titleFontWeight="normal",
                      titlePadding=14, titleColor="#111")
    y_axis = alt.Axis(values=qq_ticks, labelExpr=y_label_expr, tickSize=7, tickColor="#222",
                      domain=False, grid=False, labelAngle=270, labelAlign="center",
                      labelBaseline="bottom", labelFontSize=14, labelPadding=9, labelColor="#111",
                      title="Observed " + LOGP, titleFontSize=19, titleFontWeight="normal",
                      titlePadding=22, titleColor="#111")
    band = alt.Chart(pd.DataFrame({"e": band_x, "lo": band_lo, "hi": band_hi})).mark_area(
        color="#BDBDBD", clip=True
    ).encode(
        x=alt.X("e:Q", scale=xs, axis=x_axis),
        y=alt.Y("lo:Q", scale=ys, axis=y_axis),
        y2="hi:Q",
    )
    diagonal = alt.Chart(pd.DataFrame({"e": x_domain, "o": x_domain})).mark_line(
        color="#FF0000", strokeWidth=1.2, clip=True
    ).encode(
        x=alt.X("e:Q", scale=xs, axis=x_axis),
        y=alt.Y("o:Q", scale=ys, axis=y_axis),
    )
    points = alt.Chart(pd.DataFrame({"e": expected, "o": observed})).mark_point(
        filled=False, color="#1A1AFF", size=26, strokeWidth=1.8, opacity=1, clip=True
    ).encode(
        x=alt.X("e:Q", scale=xs, axis=x_axis),
        y=alt.Y("o:Q", scale=ys, axis=y_axis),
    )
    return alt.layer(band, diagonal, points).properties(width=250, height=235)


man_ltg = manhattan(ltg_chromosomes, ltg_bases, "LTG (Japonica)", 16, [-0.144, 3.744], [1, 2, 3], 279, 12,
                    [30, 50], [2.6, 3.4], 3.6, ltg_thresholds, ltg_threshold_colors)
man_gi = manhattan(gi_chromosomes, gi_bases, "GI (Japonica)", 12, [-0.323, 8.40], [1, 2, 3, 4, 5, 6, 7, 8], 282, 14,
                   [26, 44], [1.6, 2.8], 8.1, gi_thresholds, gi_threshold_colors)

qq_ltg = qq_panel(qq_ltg_expected, qq_ltg_observed, qq_ltg_band_expected, qq_ltg_band_lower,
                  qq_ltg_band_upper, [-0.144, 3.744], [-0.138, 3.588],
                  "format(datum.value, '.1f')")
qq_gi = qq_panel(qq_gi_expected, qq_gi_observed, qq_gi_band_expected, qq_gi_band_lower,
                 qq_gi_band_upper, [-0.124, 3.585], [-0.144, 3.63],
                 "datum.value % 1 === 0 ? format(datum.value, '.1f') : ''")

# empty block that sets the QQ column a little lower than the Manhattan plots
spacer = alt.Chart(pd.DataFrame({"v": [0]})).mark_point(opacity=0).encode(
    x=alt.X("v:Q", axis=None), y=alt.Y("v:Q", axis=None)
).properties(width=250, height=1, view=alt.ViewBackground(stroke="transparent"))

left = alt.vconcat(man_ltg, man_gi, spacing=58)
right = alt.vconcat(alt.vconcat(spacer, qq_ltg, spacing=9), qq_gi, spacing=103)

chart = alt.hconcat(left, right, spacing=41).properties(
    padding={"left": 10, "top": 11, "right": 0, "bottom": 0},
    background="white",
).configure_view(
    stroke="#555555", strokeWidth=1.2
).configure_title(
    font="Open Sans", fontWeight="bold", fontSize=25, color="#000"
).configure_axis(
    labelFont=FONT, titleFont=FONT
)

chart.save("out.html", embed_options={"renderer": "svg", "actions": False})
